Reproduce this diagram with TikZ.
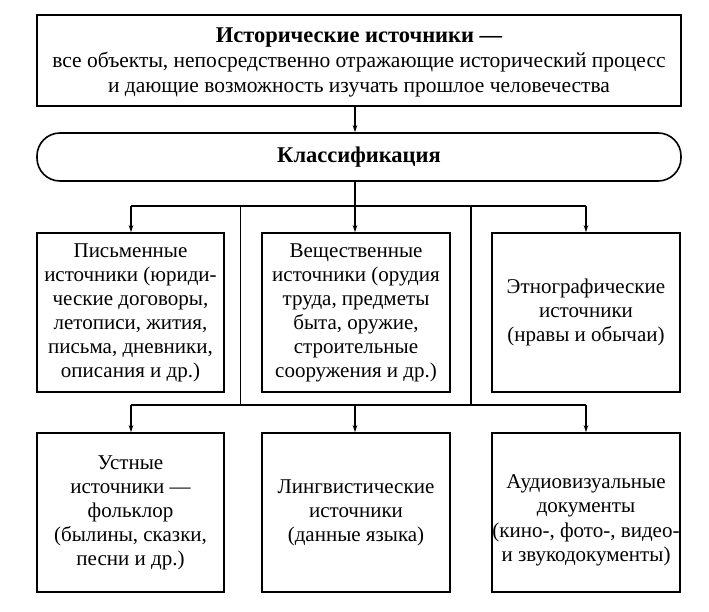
\documentclass[tikz,border=0pt]{standalone}
\usepackage{fontspec}
\setmainfont{Liberation Serif}
\usetikzlibrary{arrows.meta}
\begin{document}
\begin{tikzpicture}[x=1pt,y=-1pt,
  box/.style={draw,line width=1.6pt,rectangle,align=center,inner sep=0pt,
    minimum width=188pt,minimum height=159pt,font=\fontsize{21}{24}\selectfont},
  txt/.style={align=center,inner sep=0pt,font=\fontsize{21}{24.5}\selectfont},
  conn/.style={line width=1.1pt},
  arr/.style={line width=1.1pt,-{Stealth[length=7pt,width=4.5pt]}}]
\useasboundingbox (0,0) rectangle (709,612);
\node[draw,line width=1.6pt,minimum width=644pt,minimum height=91pt,inner sep=0pt] (tb) at (359,60.5) {};
\node[align=center,inner sep=0pt,font=\fontsize{21.5}{25}\selectfont] (tbt) at (359,62)
  {{\fontsize{22.5}{25}\selectfont\bfseries Исторические источники —}\\все объекты, непосредственно отражающие исторический процесс\\и дающие возможность изучать прошлое человечества};
\node[draw,line width=1.6pt,rounded corners=23pt,minimum width=644pt,minimum height=48pt,inner sep=0pt,
  font=\fontsize{22.5}{24}\selectfont\bfseries] (cl) at (359,157) {Классификация};
\node[box,minimum width=187pt] (b1) at (130.5,312.5) {Письменные\\источники (юриди-\\ческие договоры,\\летописи, жития,\\письма, дневники,\\описания и др.)};
\node[box] (b2) at (356,312.5) {Вещественные\\источники (орудия\\труда, предметы\\быта, оружие,\\строительные\\сооружения и др.)};
\node[box] (b3) at (586,312.5) {Этнографические\\источники\\(нравы и обычаи)};
\node[box,minimum width=187pt] (b4) at (130.5,512.5) {Устные\\источники —\\фольклор\\(былины, сказки,\\песни и др.)};
\node[box] (b5) at (356,512.5) {Лингвистические\\источники\\(данные языка)};
\node[box] (b6) at (586,512.5) {};
\node[txt] (b6t) at (586,520.5) {Аудиовизуальные\\документы\\(кино-, фото-, видео-\\и звукодокументы)};
\coordinate (c0) at (355,206);
\coordinate (l1) at (131,206);
\coordinate (r1) at (586,206);
\coordinate (va) at (240.5,206);
\coordinate (vb) at (471,206);
\coordinate (l2) at (131,405);
\coordinate (m2) at (355,405);
\coordinate (r2) at (586,405);
\coordinate (wa) at (240.5,405);
\coordinate (wb) at (471,405);
\draw[arr] (tb.south -| c0) -- (cl.north -| c0);
\draw[conn] (cl.south -| c0) -- (c0);
\draw[conn] (l1) -- (r1);
\draw[arr] (l1) -- (b1.north -| l1);
\draw[arr] (c0) -- (b2.north -| c0);
\draw[arr] (r1) -- (b3.north -| r1);
\draw[conn] (va) -- (wa);
\draw[conn] (vb) -- (wb);
\draw[conn] (l2) -- (r2);
\draw[arr] (l2) -- (b4.north -| l2);
\draw[arr] (m2) -- (b5.north -| m2);
\draw[arr] (r2) -- (b6.north -| r2);
\end{tikzpicture}
\end{document}
